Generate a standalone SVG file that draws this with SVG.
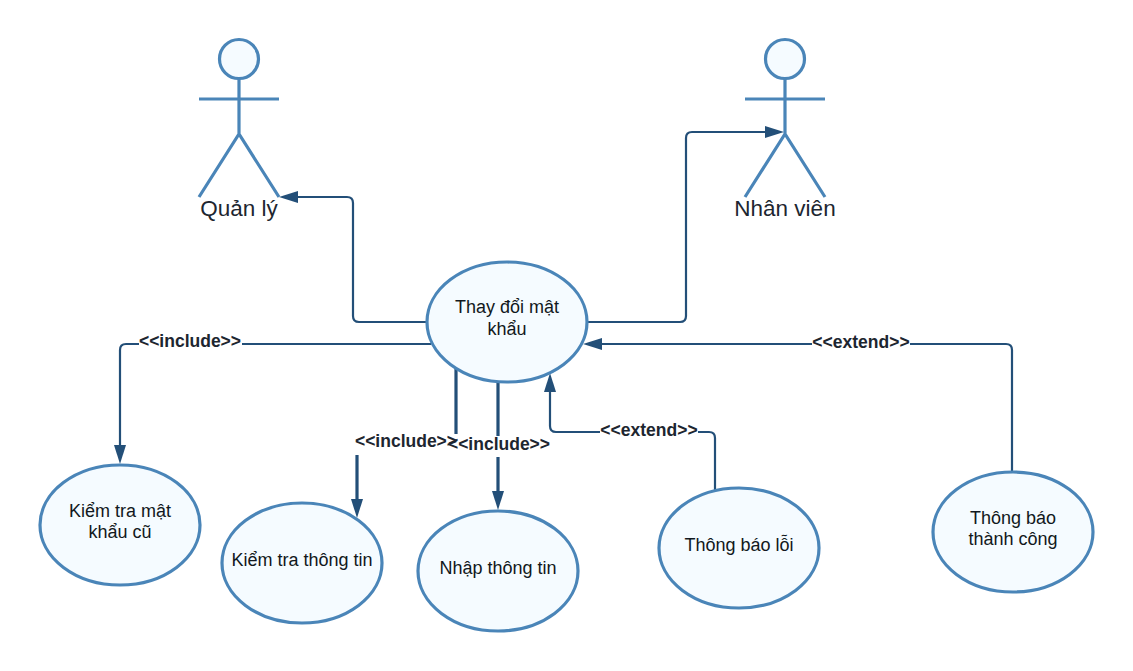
<svg xmlns="http://www.w3.org/2000/svg" width="1133" height="671" viewBox="0 0 1133 671">
<style>
text{font-family:"Liberation Sans",Arial,sans-serif;fill:#1d2630;text-anchor:middle}
.u{font-size:18px;fill:#111820}
.a{font-size:22.500px}
.l{font-size:17.500px;font-weight:700}
.n{fill:#f5fbff;stroke:#4a85b8;stroke-width:3.2}
.s{fill:none;stroke:#4a85b8;stroke-width:3.2}
.c{fill:none;stroke:#234f78;stroke-width:2.2;stroke-linejoin:round}
.t{stroke-width:3.2}
.h{fill:#234f78}
</style>
<g id="connectors">
<path class="c" d="M427 322H359Q353 322 353 316V203Q353 197 347 197H298"/><polygon class="h" points="279,197 298,191 298,203"/>
<path class="c" d="M588 322H680Q686 322 686 316V138Q686 132 692 132H765"/><polygon class="h" points="784,132 765,126 765,138"/>
<path class="c" d="M431 344H126Q120 344 120 350V445"/><polygon class="h" points="120,464 114,445 126,445"/>
<path class="c t" d="M456 368V434"/>
<path class="c t" d="M357 455V499"/><polygon class="h" points="357,518 351,499 363,499"/>
<path class="c t" d="M498 382V436M498 457V492"/><polygon class="h" points="498,510 492,491 504,491"/>
<path class="c" d="M715 491V438Q715 432 709 432H556Q550 432 550 426V392"/><polygon class="h" points="550,373 544,392 556,392"/>
<path class="c" d="M1012 472V350Q1012 344 1006 344H602"/><polygon class="h" points="583,344 602,338 602,350"/>
<rect x="139" y="333" width="103" height="20" fill="#fff"/>
<rect x="812" y="333" width="98" height="20" fill="#fff"/>
<rect x="600" y="421" width="98" height="20" fill="#fff"/>
</g>
<g id="actor-quan-ly">
<circle class="n" cx="239" cy="59" r="19.500"/>
<path class="s" d="M239 79V134M199 197L239 134L279 197M199 99H279"/>
<text class="a" x="239" y="216">Quản lý</text>
</g>
<g id="actor-nhan-vien">
<circle class="n" cx="785" cy="59" r="19.500"/>
<path class="s" d="M785 79V134M745 197L785 134L825 197M745 99H825"/>
<text class="a" x="785" y="216">Nhân viên</text>
</g>
<g id="uc-thay-doi">
<ellipse class="n" cx="507" cy="322" rx="80" ry="60"/>
<text class="u" x="507" y="313">Thay đổi mật</text><text class="u" x="507" y="335">khẩu</text>
</g>
<g id="uc-kiem-tra-mat-khau">
<ellipse class="n" cx="120" cy="525" rx="80" ry="60"/>
<text class="u" x="120" y="517">Kiểm tra mật</text><text class="u" x="120" y="538">khẩu cũ</text>
</g>
<g id="uc-kiem-tra-thong-tin">
<ellipse class="n" cx="302" cy="563" rx="80" ry="60"/>
<text class="u" x="302" y="566">Kiểm tra thông tin</text>
</g>
<g id="uc-nhap-thong-tin">
<ellipse class="n" cx="498" cy="571" rx="80" ry="60"/>
<text class="u" x="498" y="574">Nhập thông tin</text>
</g>
<g id="uc-thong-bao-loi">
<ellipse class="n" cx="739" cy="548" rx="80" ry="60"/>
<text class="u" x="739" y="551">Thông báo lỗi</text>
</g>
<g id="uc-thong-bao-thanh-cong">
<ellipse class="n" cx="1013" cy="532" rx="80" ry="60"/>
<text class="u" x="1013" y="524">Thông báo</text><text class="u" x="1013" y="545">thành công</text>
</g>
<g id="labels">
<text class="l" x="190" y="347">&lt;&lt;include&gt;&gt;</text>
<text class="l" x="406" y="447">&lt;&lt;include&gt;&gt;</text>
<text class="l" x="499" y="450">&lt;&lt;include&gt;&gt;</text>
<text class="l" x="649" y="436">&lt;&lt;extend&gt;&gt;</text>
<text class="l" x="861" y="348">&lt;&lt;extend&gt;&gt;</text>
</g>
</svg>
